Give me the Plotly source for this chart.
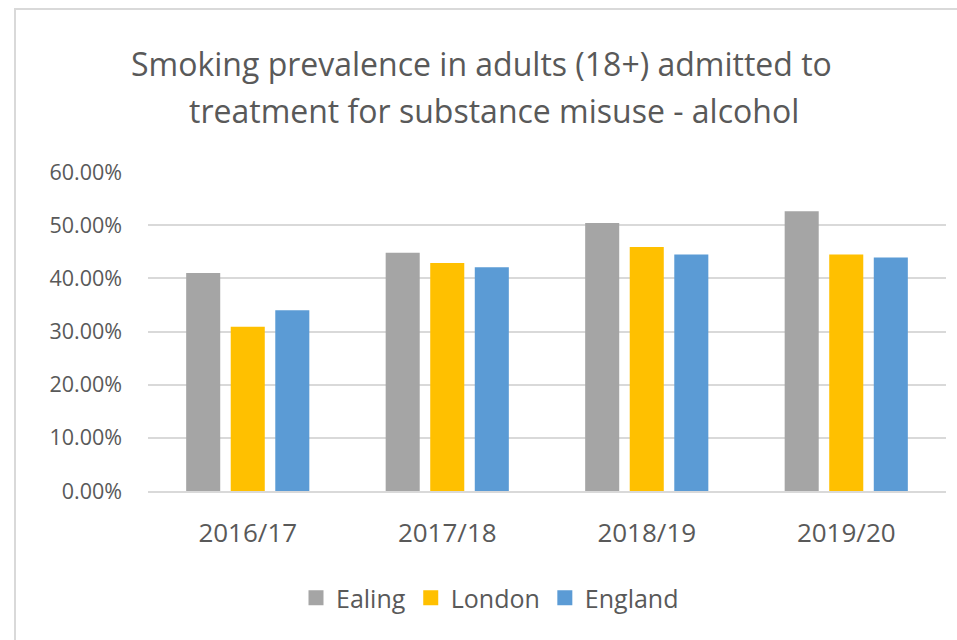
import plotly.graph_objects as go

categories = ["2016/17", "2017/18", "2018/19", "2019/20"]
series_names = ["Ealing", "London", "England"]
ealing = [0.410, 0.448, 0.504, 0.526]
london = [0.309, 0.429, 0.459, 0.445]
england = [0.340, 0.421, 0.445, 0.439]
colors = ["#A5A5A5", "#FFC000", "#5B9BD5"]
y_ticks = [0, 0.1, 0.2, 0.3, 0.4, 0.5, 0.6]
y_tick_labels = ["0.00%", "10.00%", "20.00%", "30.00%", "40.00%", "50.00%", "60.00%"]
title_lines = ["Smoking prevalence in adults (18+) admitted to",
               "treatment for substance misuse - alcohol"]

FONT = "Open Sans"
TXT = "#595959"

fig = go.Figure()
for name, vals, col in zip(series_names, [ealing, london, england], colors):
    fig.add_trace(go.Bar(x=categories, y=vals, name=name, legendgroup=name, showlegend=False,
                         marker=dict(color=col, line=dict(width=0))))
# legend entries with square swatches
for name, col in zip(series_names, colors):
    fig.add_trace(go.Scatter(x=[None], y=[None], mode="markers", name=name, legendgroup=name,
                             marker=dict(symbol="square", size=15, color=col)))

W, H = 957, 640
L, R, T, B = 148, 11, 172, 149
pw, ph = W - L - R, H - T - B

def px_x(x):
    return (x - L) / pw

def px_y(y):
    return (H - B - y) / ph

fig.update_layout(
    width=W, height=H,
    margin=dict(l=L, r=R, t=T, b=B, pad=0),
    paper_bgcolor="white", plot_bgcolor="white",
    font=dict(family=FONT, color=TXT, size=19),
    barmode="group", bargap=0.33, bargroupgap=0.236,
    showlegend=True,
    legend=dict(orientation="h", x=px_x(296), xanchor="left", y=px_y(598), yanchor="middle",
                font=dict(size=25, color=TXT, family=FONT), itemwidth=30, traceorder="normal",
                itemsizing="trace", itemclick=False, itemdoubleclick=False),
    xaxis=dict(showgrid=False, showline=True, linecolor="#D9D9D9", linewidth=2,
               ticks="", tickfont=dict(size=26, color=TXT), ticklabelstandoff=18),
    yaxis=dict(range=[0, 0.6], tickvals=y_ticks, ticktext=y_tick_labels,
               showgrid=True, gridcolor="#D9D9D9", gridwidth=2, zeroline=False,
               showline=False, ticks="", tickfont=dict(size=21.5, color=TXT), ticklabelstandoff=25),
)

fig.add_shape(type="rect", xref="paper", yref="paper",
              x0=px_x(15), x1=px_x(1100), y0=px_y(800), y1=px_y(9),
              line=dict(color="#D9D9D9", width=2), fillcolor="rgba(0,0,0,0)", layer="below")

for line, xpix, ypix in zip(title_lines, [481, 494], [63, 110]):
    fig.add_annotation(text=line, xref="paper", yref="paper", x=px_x(xpix), y=px_y(ypix),
                       xanchor="center", yanchor="middle", showarrow=False,
                       font=dict(size=32, color=TXT, family=FONT))

fig.write_html("out.html")
